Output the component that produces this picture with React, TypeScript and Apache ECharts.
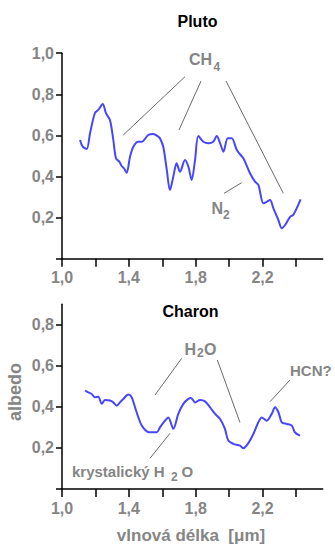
import React, { useEffect, useRef } from "react";
import * as echarts from "echarts";

const plutoWavelength = [1.108, 1.124, 1.148, 1.168, 1.197, 1.217, 1.244, 1.263, 1.287, 1.307, 1.323, 1.343, 1.357, 1.371, 1.387, 1.407, 1.427, 1.457, 1.477, 1.516, 1.546, 1.576, 1.586, 1.606, 1.627, 1.646, 1.666, 1.686, 1.706, 1.736, 1.756, 1.776, 1.796, 1.816, 1.846, 1.876, 1.905, 1.926, 1.946, 1.966, 1.992, 2.016, 2.046, 2.085, 2.095, 2.125, 2.155, 2.175, 2.205, 2.225, 2.245, 2.265, 2.295, 2.315, 2.335, 2.365, 2.384, 2.404, 2.428];
const plutoAlbedo = [0.578, 0.545, 0.534, 0.612, 0.709, 0.724, 0.753, 0.708, 0.675, 0.578, 0.489, 0.472, 0.451, 0.44, 0.418, 0.496, 0.545, 0.569, 0.569, 0.602, 0.607, 0.594, 0.586, 0.545, 0.432, 0.334, 0.399, 0.464, 0.423, 0.48, 0.448, 0.383, 0.48, 0.597, 0.569, 0.562, 0.569, 0.597, 0.562, 0.521, 0.586, 0.586, 0.529, 0.489, 0.472, 0.416, 0.375, 0.359, 0.27, 0.277, 0.286, 0.245, 0.188, 0.148, 0.164, 0.204, 0.213, 0.245, 0.289];

const charonWavelength = [1.138, 1.157, 1.178, 1.197, 1.217, 1.238, 1.257, 1.287, 1.307, 1.327, 1.347, 1.367, 1.397, 1.417, 1.437, 1.457, 1.477, 1.507, 1.537, 1.567, 1.586, 1.616, 1.636, 1.666, 1.696, 1.726, 1.756, 1.772, 1.796, 1.826, 1.856, 1.886, 1.916, 1.946, 1.975, 1.995, 2.025, 2.065, 2.085, 2.113, 2.145, 2.175, 2.195, 2.225, 2.255, 2.275, 2.295, 2.315, 2.345, 2.375, 2.394, 2.424];
const charonAlbedo = [0.48, 0.471, 0.463, 0.447, 0.45, 0.415, 0.434, 0.431, 0.422, 0.406, 0.422, 0.439, 0.46, 0.447, 0.398, 0.349, 0.309, 0.281, 0.276, 0.276, 0.3, 0.333, 0.349, 0.293, 0.366, 0.415, 0.439, 0.444, 0.422, 0.434, 0.427, 0.398, 0.366, 0.341, 0.293, 0.236, 0.22, 0.211, 0.199, 0.221, 0.268, 0.325, 0.349, 0.333, 0.366, 0.398, 0.374, 0.325, 0.317, 0.309, 0.276, 0.26];

const xTicks = [1.0, 1.2, 1.4, 1.6, 1.8, 2.0, 2.2, 2.4];
const xLabels = [1.0, 1.4, 1.8, 2.2];
const plutoYTicks = [0, 0.2, 0.4, 0.6, 0.8, 1.0];
const plutoYLabels = [0.2, 0.4, 0.6, 0.8, 1.0];
const charonYTicks = [0, 0.2, 0.4, 0.6, 0.8];
const charonYLabels = [0.2, 0.4, 0.6, 0.8];

const FONT = "'Liberation Sans', Arial, sans-serif";
const GRAY = "#858585";
const LINE_GRAY = "#6a6a6a";
const BLUE = "#4646ff";

const comma = (v: number) => v.toFixed(1).replace(".", ",");

function zip(xs: number[], ys: number[]) {
  return xs.map((x, i) => [x, ys[i]]);
}

function xAxis(gridIndex: number) {
  return {
    type: "value",
    gridIndex,
    min: 1.0,
    max: 2.56,
    interval: 0.2,
    splitLine: { show: false },
    axisLine: { lineStyle: { color: "#000", width: 1.5 } },
    axisTick: { customValues: xTicks, length: 8, lineStyle: { color: "#000", width: 1.5 } },
    axisLabel: {
      customValues: xLabels,
      formatter: comma,
      margin: 11,
      color: GRAY,
      fontSize: 16,
      fontWeight: "bold",
      fontFamily: FONT,
    },
  };
}

function yAxis(gridIndex: number, max: number, ticks: number[], labels: number[]) {
  return {
    type: "value",
    gridIndex,
    min: 0,
    max,
    interval: 0.2,
    splitLine: { show: false },
    axisLine: { lineStyle: { color: "#000", width: 1.5 } },
    axisTick: { customValues: ticks, length: 6, lineStyle: { color: "#000", width: 1.5 } },
    axisLabel: {
      customValues: labels,
      formatter: comma,
      margin: 8,
      color: GRAY,
      fontSize: 16,
      fontWeight: "bold",
      fontFamily: FONT,
    },
  };
}

function txt(text: string, x: number, y: number, size: number, color = GRAY, align = "left") {
  return {
    type: "text",
    x,
    y,
    style: {
      text,
      fill: color,
      font: `bold ${size}px ${FONT}`,
      textAlign: align,
      textVerticalAlign: "middle",
    },
  };
}

function ln(x1: number, y1: number, x2: number, y2: number) {
  return {
    type: "line",
    shape: { x1, y1, x2, y2 },
    style: { stroke: LINE_GRAY, lineWidth: 1 },
  };
}

export default function App() {
  const ref = useRef<HTMLDivElement>(null);

  useEffect(() => {
    if (!ref.current) return;
    const chart = echarts.init(ref.current, null, { renderer: "svg" });
    chart.setOption({
      animation: false,
      backgroundColor: "#fff",
      grid: [
        { left: 62, top: 53.2, width: 260.7, height: 205.5 },
        { left: 62, top: 304.3, width: 260.7, height: 184.7 },
      ],
      xAxis: [xAxis(0), xAxis(1)],
      yAxis: [
        yAxis(0, 1.0, plutoYTicks, plutoYLabels),
        yAxis(1, 0.9, charonYTicks, charonYLabels),
      ],
      series: [
        {
          type: "line",
          name: "Pluto",
          xAxisIndex: 0,
          yAxisIndex: 0,
          data: zip(plutoWavelength, plutoAlbedo),
          showSymbol: false,
          smooth: 0.3,
          lineStyle: { color: BLUE, width: 2 },
        },
        {
          type: "line",
          name: "Charon",
          xAxisIndex: 1,
          yAxisIndex: 1,
          data: zip(charonWavelength, charonAlbedo),
          showSymbol: false,
          smooth: 0.3,
          lineStyle: { color: BLUE, width: 2 },
        },
      ],
      graphic: [
        txt("Pluto", 197.5, 21.5, 16, "#000", "center"),
        txt("Charon", 190.5, 311.5, 16, "#000", "center"),
        {
          type: "text",
          x: 15,
          y: 392,
          rotation: Math.PI / 2,
          style: {
            text: "albedo",
            fill: GRAY,
            font: `bold 18px ${FONT}`,
            textAlign: "center",
            textVerticalAlign: "middle",
          },
        },
        txt("vlnová délka  [μm]", 191, 535, 17, GRAY, "center"),
        // Pluto annotations
        ln(185, 76.7, 123.3, 135),
        ln(201, 81, 179, 130),
        ln(226, 81, 283.3, 193.3),
        ln(224, 193.3, 241.7, 182.7),
        txt("CH", 189, 59, 16),
        txt("4", 213.5, 66.5, 12),
        txt("N", 211.5, 208.5, 16),
        txt("2", 223, 215, 12),
        // Charon annotations
        ln(181.7, 358.3, 155, 395),
        ln(217.3, 360, 240, 422.5),
        ln(290, 380, 270, 401.7),
        ln(170, 433.3, 150, 458.3),
        txt("H", 184.5, 349, 16),
        txt("2", 197, 353, 12),
        txt("O", 204, 349, 16),
        txt("HCN?", 290, 370, 15),
        txt("krystalický H", 72, 471.5, 15),
        txt("2", 171, 477, 12),
        txt("O", 181.5, 471.5, 15),
      ],
    });
    return () => chart.dispose();
  }, []);

  return (
    <div
      ref={ref}
      style={{ position: "absolute", left: 0, top: 0, width: 335, height: 544, background: "#fff" }}
    />
  );
}
